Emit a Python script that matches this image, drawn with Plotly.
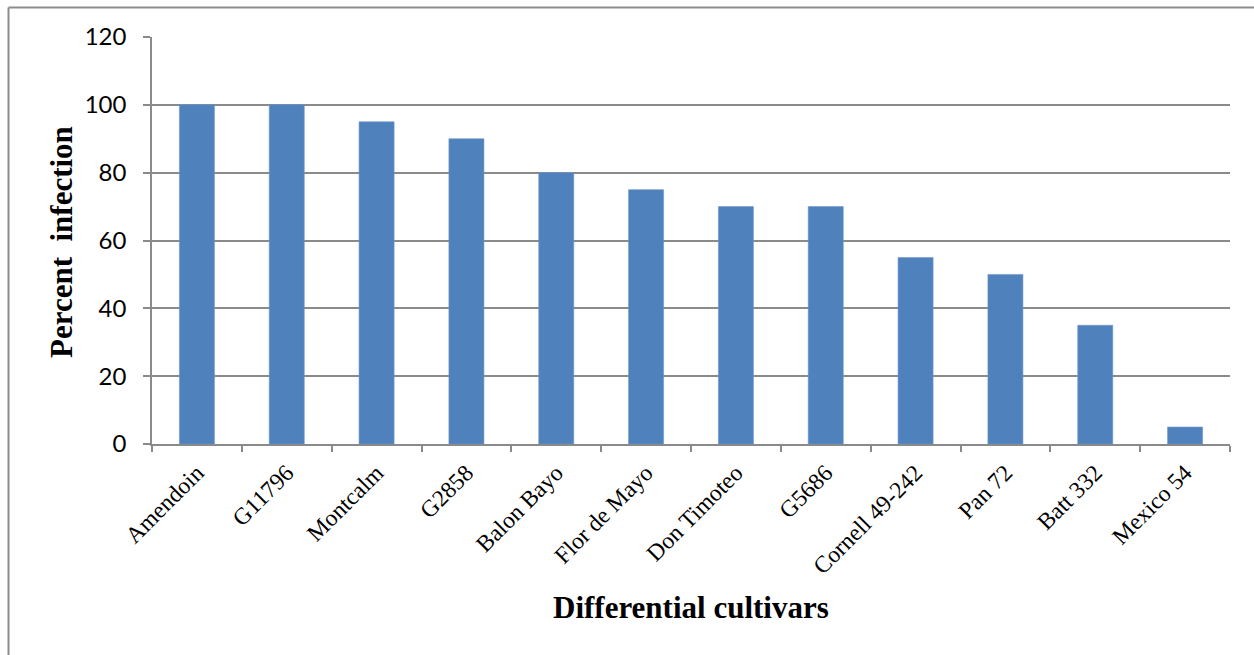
import plotly.graph_objects as go

# Percent infection per differential cultivar
cultivars = ["Amendoin", "G11796", "Montcalm", "G2858", "Balon Bayo", "Flor de Mayo",
             "Don Timoteo", "G5686", "Cornell 49-242", "Pan 72", "Batt 332", "Mexico 54"]
infection = [100, 100, 95, 90, 80, 75, 70, 70, 55, 50, 35, 5]
y_ticks = [0, 20, 40, 60, 80, 100, 120]

W, H = 1254, 655
L, R, T, B = 152, 24, 37, 211
pw, ph = W - L - R, H - T - B

def px_x(p):
    return (p - L) / pw

def px_y(p):
    return (H - B - p) / ph

fig = go.Figure(go.Bar(
    x=cultivars, y=infection,
    marker=dict(color="#4F81BD", line=dict(color="#6f97c8", width=0.6)),
    hoverinfo="x+y",
))

grid = "#8a8a8a"
fig.update_layout(
    width=W, height=H,
    margin=dict(l=L, r=R, t=T, b=B),
    paper_bgcolor="white", plot_bgcolor="white",
    bargap=0.61, showlegend=False,
    xaxis=dict(
        showline=True, linecolor=grid, linewidth=1.5,
        ticks="outside", tickson="boundaries", ticklen=6, tickcolor=grid, tickwidth=1.5,
        tickangle=-45, tickfont=dict(family="Liberation Serif", size=23.5, color="black"),
        ticklabelstandoff=4, showgrid=False,
    ),
    yaxis=dict(
        range=[0, 120], tickvals=y_ticks,
        showline=True, linecolor=grid, linewidth=1.5,
        ticks="outside", ticklen=7, tickcolor=grid, tickwidth=1.5,
        showgrid=True, gridcolor=grid, gridwidth=1.5,
        tickfont=dict(family="Lato", size=24, color="black"),
        ticklabelstandoff=12, zeroline=False,
    ),
    annotations=[
        dict(text="<b>Differential cultivars</b>", xref="paper", yref="paper",
             x=px_x(691), y=px_y(607), xanchor="center", yanchor="middle", showarrow=False,
             font=dict(family="Liberation Serif", size=31, color="black")),
        dict(text="<b>Percent  infection</b>", xref="paper", yref="paper",
             x=px_x(61), y=px_y(242), xanchor="center", yanchor="middle",
             showarrow=False, textangle=-90,
             font=dict(family="Liberation Serif", size=31, color="black")),
    ],
    shapes=[
        dict(type="line", xref="paper", yref="paper",
             x0=px_x(8.5), x1=px_x(8.5), y0=px_y(7.5), y1=px_y(H + 5),
             line=dict(color="#8c8c8c", width=2)),
        dict(type="line", xref="paper", yref="paper",
             x0=px_x(8.5), x1=px_x(W + 5), y0=px_y(7.5), y1=px_y(7.5),
             line=dict(color="#8c8c8c", width=2)),
    ],
)

fig.write_html("out.html")
